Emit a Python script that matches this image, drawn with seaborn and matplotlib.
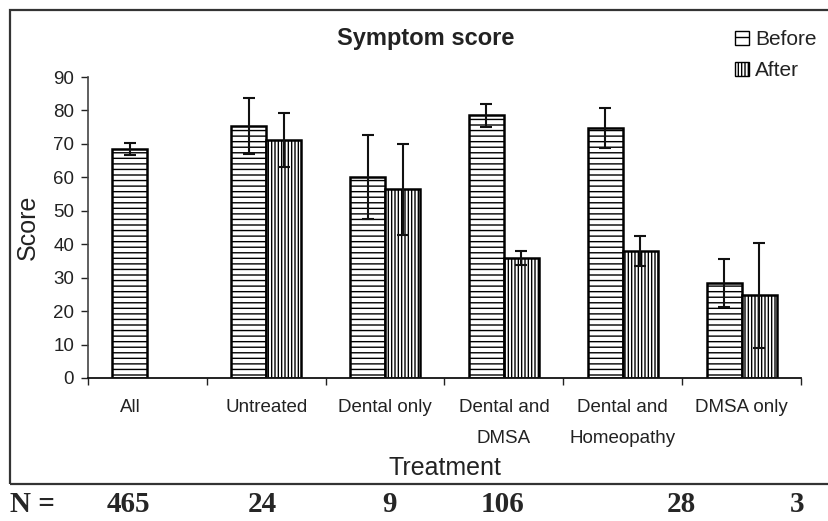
import pandas as pd
import matplotlib
matplotlib.use("Agg")
import matplotlib.pyplot as plt
import seaborn as sns
from matplotlib.patches import Patch, Rectangle

# Values
treatments = ["All", "Untreated", "Dental only", "Dental and\nDMSA",
              "Dental and\nHomeopathy", "DMSA only"]
before_score = [68.5, 75.3, 60.1, 78.5, 74.8, 28.5]
before_err = [1.7, 8.4, 12.6, 3.4, 6.0, 7.2]
after_score = [None, 71.1, 56.4, 35.9, 37.9, 24.8]
after_err = [None, 8.0, 13.7, 2.0, 4.5, 15.7]
n_counts = [465, 24, 9, 106, 28, 3]

rows = []
for t, b, be, a, ae in zip(treatments, before_score, before_err, after_score, after_err):
    rows.append({"Treatment": t, "When": "Before", "Score": b, "Err": be})
    if a is not None:
        rows.append({"Treatment": t, "When": "After", "Score": a, "Err": ae})
df = pd.DataFrame(rows)

sns.set_style("white")
plt.rcParams["font.family"] = ["Liberation Sans", "DejaVu Sans"]
plt.rcParams["hatch.linewidth"] = 1.0

fig = plt.figure(figsize=(8.29, 5.21), dpi=100)
ax = fig.add_axes([88 / 829, 1 - 378 / 521, (801 - 88) / 829, (378 - 77) / 521])

sns.barplot(data=df, x="Treatment", y="Score", hue="When", order=treatments,
            hue_order=["Before", "After"], errorbar=None, width=0.59,
            color="white", edgecolor="black", linewidth=1.8, saturation=1,
            legend=False, ax=ax)

hatches = {"Before": "---", "After": "|||||"}
for container, level in zip(ax.containers, ["Before", "After"]):
    sub = df[df["When"] == level].set_index("Treatment").reindex(treatments).dropna()
    xs, ys = [], []
    for bar in container:
        bar.set_hatch(hatches[level])
        bar.set_facecolor("white")
        bar.set_edgecolor("black")
        xs.append(bar.get_x() + bar.get_width() / 2)
        ys.append(bar.get_height())
    ax.errorbar(xs, ys, yerr=sub["Err"].values[:len(xs)], fmt="none",
                ecolor="#111111", elinewidth=1.5, capsize=4, capthick=1.5)

ax.set_xlim(-0.5, 5.5)
ax.set_ylim(0, 90)
ax.set_yticks(range(0, 91, 10))
ax.tick_params(axis="y", length=5, width=1, direction="out", left=True,
               labelsize=13.5, pad=5, colors="#222222")
# category labels (All sits under its single bar) and boundary ticks
ax.set_xticks([-0.1475, 1, 2, 3, 4, 5])
ax.set_xticklabels(treatments, fontsize=13.5, color="#222222", linespacing=2.1,
                   va="top")
ax.tick_params(axis="x", which="major", length=0, pad=15)
ax.set_xticks([i - 0.5 for i in range(7)], minor=True)
ax.tick_params(axis="x", which="minor", length=5, width=1, direction="out",
               bottom=True, color="#222222")

for side in ["top", "right"]:
    ax.spines[side].set_visible(False)
ax.spines["left"].set_color("#444444")
ax.spines["left"].set_linewidth(1.2)
ax.spines["bottom"].set_color("#111111")
ax.spines["bottom"].set_linewidth(1.3)

ax.set_xlabel("Treatment", fontsize=18, color="#222222")
ax.xaxis.set_label_coords(0.5, -0.299)
ax.xaxis.label.set_va("center")
ax.set_ylabel("Score", fontsize=18, color="#222222")
ax.yaxis.set_label_coords(-0.084, 0.5)
ax.yaxis.label.set_va("center")

fig.text(426 / 829, 1 - 39 / 521, "Symptom score", fontsize=17, fontweight="bold",
         ha="center", va="center", color="#222222")

legend_handles = [Patch(facecolor="white", edgecolor="black", hatch="--", label="Before"),
                  Patch(facecolor="white", edgecolor="black", hatch="|||||", label="After")]
fig.legend(handles=legend_handles, loc="upper left", bbox_to_anchor=(735 / 829, 1 - 30 / 521),
           frameon=False, fontsize=15, handlelength=0.65, handleheight=0.65,
           handletextpad=0.3, labelspacing=0.6, borderpad=0, borderaxespad=0,
           labelcolor="#222222")

# outer frame of the chart panel
fig.patches.append(Rectangle((10 / 829, 1 - 484 / 521), 1.0, (484 - 10) / 521,
                             transform=fig.transFigure, fill=False,
                             edgecolor="#333333", linewidth=1.6, clip_on=False))

# sample sizes below the panel
n_label_x = [128, 262, 390, 503, 681, 797]
fig.text(10 / 829, 1 - 505 / 521, "N =", family="Liberation Serif",
         fontweight="bold", fontsize=21, ha="left", va="center")
for px, n in zip(n_label_x, n_counts):
    fig.text(px / 829, 1 - 505 / 521, str(n), family="Liberation Serif",
             fontweight="bold", fontsize=21, ha="center", va="center")

fig.savefig("out.png", dpi=100)
